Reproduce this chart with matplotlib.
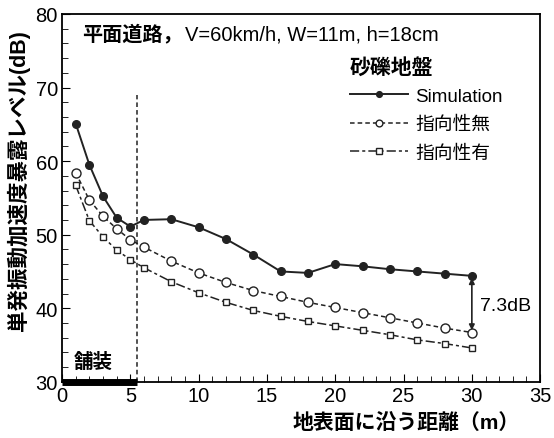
import matplotlib.pyplot as plt
from matplotlib.ticker import MultipleLocator

plt.rcParams['font.family'] = ['Liberation Sans', 'Noto Sans CJK JP']

# data
dist = [1, 2, 3, 4, 5, 6, 8, 10, 12, 14, 16, 18, 20, 22, 24, 26, 28, 30]
sim = [65.1, 59.5, 55.2, 52.3, 51.1, 52.0, 52.1, 51.0, 49.4, 47.3, 45.0, 44.8,
       46.0, 45.7, 45.3, 45.0, 44.7, 44.4]
no_dir = [58.4, 54.7, 52.5, 50.8, 49.3, 48.3, 46.4, 44.8, 43.5, 42.4, 41.6, 40.8,
          40.1, 39.4, 38.7, 38.0, 37.3, 36.7]
with_dir = [56.7, 51.9, 49.7, 47.9, 46.6, 45.5, 43.6, 42.1, 40.8, 39.7, 38.9, 38.2,
            37.6, 37.0, 36.4, 35.7, 35.2, 34.6]
paved_end = 5.5

fig = plt.figure(figsize=(5.54, 4.39), dpi=100)
ax = fig.add_axes([0.112, 0.128, 0.863, 0.838])

ax.plot(dist, sim, '-o', c='#222222', lw=1.4, ms=5.5, label='Simulation')
ax.plot(dist, no_dir, '--o', c='#222222', lw=1.1, ms=6.5, mfc='white',
        dashes=(3, 2), label='指向性無')
ax.plot(dist, with_dir, c='#222222', lw=1.1, ms=5, marker='s', mfc='white',
        dashes=(6, 2, 2, 2), label='指向性有')

# paved section
ax.plot([paved_end, paved_end], [30, 69], c='#222222', lw=1.1, dashes=(3, 2))
ax.plot([0, paved_end], [30, 30], c='black', lw=5, solid_capstyle='butt', clip_on=False)
ax.text(2.3, 32.8, '舗装', fontsize=14, fontweight='bold', ha='center', va='center')

# difference at 30 m
ax.annotate('', xy=(30, no_dir[-1] + 0.3), xytext=(30, sim[-1] - 0.3),
            arrowprops=dict(arrowstyle='<|-|>', color='#222222', lw=1.2,
                            mutation_scale=8, shrinkA=0, shrinkB=0))
ax.text(30.6, 40.4, '7.3dB', fontsize=14, va='center')

t = ax.text(1.5, 77.3, '平面道路，', fontsize=14.5, fontweight='bold', va='center')
ax.annotate('V=60km/h, W=11m, h=18cm', xycoords=t, xy=(1, 0.5), va='center',
            fontsize=14.5, xytext=(1, 0), textcoords='offset points')

ax.set_xlim(0, 35)
ax.set_ylim(30, 80)
ax.xaxis.set_major_locator(MultipleLocator(5))
ax.xaxis.set_minor_locator(MultipleLocator(1))
ax.yaxis.set_major_locator(MultipleLocator(10))
ax.yaxis.set_minor_locator(MultipleLocator(2))
ax.tick_params(direction='in', which='both', labelsize=14.5, pad=3)
ax.tick_params(which='major', length=6)
ax.tick_params(which='minor', length=4)
for s in ax.spines.values():
    s.set_linewidth(1.3)

ax.set_xlabel('地表面に沿う距離（m）', fontsize=15, fontweight='bold')
ax.xaxis.set_label_coords(0.72, -0.085)
ax.xaxis.label.set_va('top')
ax.set_ylabel('単発振動加速度暴露レベル(dB)', fontsize=15.5, fontweight='bold')
ax.yaxis.set_label_coords(-0.066, 0.55)

leg = ax.legend(loc='upper left', bbox_to_anchor=(0.586, 0.905), frameon=False,
                title='砂礫地盤', fontsize=13.5, handlelength=3.1, labelspacing=0.6,
                handletextpad=0.4, borderaxespad=0, markerscale=0.75)
leg.get_title().set_fontsize(15)
leg.get_title().set_fontweight('bold')
leg._legend_box.align = 'left'

fig.savefig('out.png', dpi=100)
